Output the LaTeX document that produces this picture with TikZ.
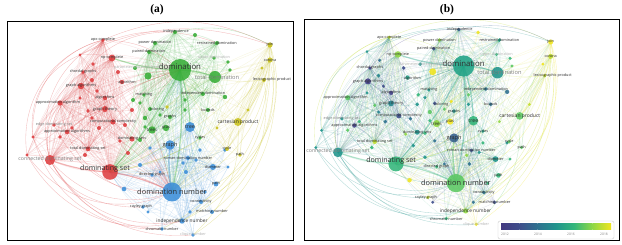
\documentclass[tikz,border=0pt]{standalone}
\usepackage{fontspec}
\newfontfamily\lab{Open Sans}
\newfontfamily\ttl{Liberation Serif}
% cluster colours (panel a)
\definecolor{cR}{HTML}{DE3E40}
\definecolor{cG}{HTML}{38AE38}
\definecolor{cB}{HTML}{3D8FD9}
\definecolor{cY}{HTML}{C9C21E}
% year colours (panel b)
\definecolor{y12}{HTML}{41387F}
\definecolor{y125}{HTML}{443F8A}
\definecolor{y13}{HTML}{3D4D8A}
\definecolor{y135}{HTML}{355F8D}
\definecolor{y14}{HTML}{2D708E}
\definecolor{y145}{HTML}{25838E}
\definecolor{y15}{HTML}{1F948C}
\definecolor{y155}{HTML}{20A386}
\definecolor{y16}{HTML}{33B67A}
\definecolor{y165}{HTML}{5CC863}
\definecolor{y17}{HTML}{8FD744}
\definecolor{y175}{HTML}{C1DE2C}
\definecolor{y18}{HTML}{F0E51E}
\colorlet{lblk}{black!82}
\colorlet{lgry}{black!50}
\colorlet{lfnt}{black!30}
\tikzset{
  lnk/.style={draw=col-#1,line width=.3pt,draw opacity=.17},
  arc/.style={draw=col-#1,line width=.35pt,draw opacity=.35},
  hub/.style={draw=col-#1,line width=1.2pt,draw opacity=.4},
  lbl/.style={inner sep=0pt}
}
\def\pick#1#2{#1}
\def\nodelist{%
apx/103/40/1.8/cR/y175,npc/112/58/3.4/cR/y17,chordal/83/72/1.8/cR/y125,alg/122/82/2.2/cR/y155,%
galg/81/86/3.2/cR/y125,algs/105/98/2.2/cR/y125,approxa/60/103/2.6/cR/y165,gtheory/105/109/3/cR/y145,%
compc/113/122/2.6/cR/y13,eds/54/125/1.8/cR/y15,approxas/67/132/2.3/cR/y125,dsets/132/139/2.6/cR/y15,%
tds/88/149/2.3/cR/y175,cds/50/160/5/cR/y15,dset/110/172/7.8/cR/y16,%
r1/80/55/1.5/cR/y15,r2/93/64/1.8/cR/y14,r3/92/80/2/cR/y145,r4/97/91/1.8/cR/y13,r5/80/98/1.6/cR/y15,%
r6/88/111/1.8/cR/y165,r7/92/118/1.8/cR/y145,r8/99/128/2/cR/y14,r9/72/128/1.8/cR/y16,r10/60/137/1.8/cR/y165,%
r11/33/137/1.6/cR/y15,r12/27/155/1.6/cR/y15,r13/85/155/2/cR/y16,r14/120/141/1.8/cR/y17,r15/128/153/2/cR/y15,%
r16/132/110/2/cR/y15,r17/125/125/2/cR/y14,r18/118/72/2/cR/y13,%
indep/175/32/2/cG/y135,g1/195/35/2/cG/y18,powd/155/43/2/cG/y17,restr/217/43/2/cG/y155,paired/149/52/2/cG/y13,%
upper/214/58/1.8/cG/y16,param/135/68/2/cG/y15,dom/180/70/11/cG/y155,tdom/215/77/6/cG/y15,g2/148/76/3.6/cG/y18,%
g3/228/62/1.8/cG/y16,g4/230/70/1.8/cG/y165,match/144/95/1.8/cG/y15,inddom/203/94/2/cG/y14,g5/225/97/2.2/cG/y14,%
g6/133/100/2/cG/y16,g7/185/100/1.8/cG/y165,g8/140/103/1.8/cG/y15,colg/150/109/2/cG/y13,bounds/208/110/2/cG/y14,%
graphs/170/117/2/cG/y15,g9/160/115/1.8/cG/y165,g10/145/118/2.2/cG/y165,trees/152/130/3.7/cG/y17,ptas/166/128/3.2/cG/y18,%
g11/145/127/1.8/cG/y16,cycs/200/138/1.8/cG/y155,g12/140/140/2/cG/y16,g13/185/110/1.8/cG/y15,%
tree/190/127/5/cB/y16,graph/170/145/4.8/cB/y135,roman/188/158/2/cB/y13,diam/213/167/3/cB/y15,%
dirg/152/175/1.8/cB/y16,pathb/216/184/2.4/cB/y16,dnum/172/192/9.5/cB/y165,conn/201/202/2/cB/y14,%
cayley/143/207/1.8/cB/y175,matchn/212/212/2/cB/y13,indnum/182/221/2.7/cB/y17,chrom/162/229/1.8/cB/y16,%
clique/193/235/1.8/cB/y18,b1/124/189/2.3/cB/y18,b2/140/165/2/cB/y15,b3/160/172/1.6/cB/y14,b4/186/172/2/cB/y14,%
b5/196/160/1.8/cB/y15,b6/225/150/1.8/cB/y15,b7/150/148/1.8/cB/y14,b8/200/150/1.8/cB/y16,b9/148/212/1.6/cB/y13,%
b10/190/212/1.8/cB/y14,b11/205/192/1.8/cB/y16,b12/183/163/1.8/cB/y17,b13/228/167/1.6/cB/y16,%
join/270/45/2.6/cY/y18,corona/270/60/2.6/cY/y175,lex/264/80/2/cY/y175,cart/238/122/4/cY/y165,%
cyc/227/149/2/cY/y165,pathy/240/155/1.8/cY/y165,y1/167/107/1.8/cY/y18,y2/217/128/1.6/cY/y17,%
y3/248/110/1.6/cY/y175,y4/262/68/1.6/cY/y18}
\def\redlist{apx,npc,chordal,alg,galg,algs,approxa,gtheory,compc,eds,approxas,dsets,tds,cds,dset,r1,r2,r3,r4,r5,r6,r7,r8,r9,r10,r11,r12,r13,r14,r15,r16,r17,r18}
\def\greenlist{indep,g1,powd,restr,paired,upper,param,dom,tdom,g2,g3,g4,match,inddom,g5,g6,g7,g8,colg,bounds,graphs,g9,g10,trees,ptas,g11,cycs,g12,g13}
\def\bluelist{tree,graph,roman,diam,dirg,pathb,dnum,conn,cayley,matchn,indnum,chrom,clique,b1,b2,b3,b4,b5,b6,b7,b8,b9,b10,b11,b12,b13}
\def\yellowlist{join,corona,lex,cart,cyc,pathy,y1,y2,y3,y4}
\edef\allnames{\redlist,\greenlist,\bluelist,\yellowlist}
\def\labellist{%
dom/domination/7.8/lblk/0/-3,dnum/domination number/7.4/lblk/0/0,dset/dominating set/7.1/lblk/-5/-3.5,%
tdom/total domination/5.7/lgry/2/0,cds/connected dominating set/5.2/lgry/0/-1,cart/cartesian product/5/lblk/0/0,%
tree/tree/5.2/lblk/0/0,graph/graph/5.5/lblk/0/0,trees/trees/4.4/lblk/0/0,ptas/ptas/4/lblk/0/0,graphs/graphs/3.8/lblk/0/0,%
indep/independence/3.8/lblk/1/0,powd/power domination/3.8/lblk/0/0,restr/restrained domination/3.8/lblk/0/0,%
paired/paired-domination/3.8/lblk/0/0,upper/upper domination/3.8/lfnt/0/0,param/parameterized complexity/3.8/lfnt/2/0,%
join/join/3.8/lblk/0/0,corona/corona/3.8/lblk/0/0,lex/lexicographic product/3.8/lblk/8/0,apx/apx-complete/3.8/lblk/0/0,%
npc/np-complete/3.8/lblk/0/0,chordal/chordal graphs/3.8/lblk/0/0,alg/algorithm/3.8/lblk/5/1,galg/graph algorithms/3.8/lblk/0/0,%
match/matching/3.8/lblk/0/0,inddom/independent domination/3.8/lblk/0/0,algs/algorithms/3.8/lblk/0/0,%
approxa/approximation algorithm/3.8/lblk/-2/0,gtheory/graph theory/4/lblk/0/0,colg/coloring/3.8/lblk/7/1,bounds/bounds/3.8/lblk/0/0,%
compc/computational complexity/3.8/lblk/0/0,eds/edge dominating set/3.8/lgry/0/0,approxas/approximation algorithms/3.8/lblk/0/0,%
cycs/cycles/3.8/lblk/0/0,dsets/dominating sets/3.8/lblk/0/0,tds/total dominating set/3.8/lblk/0/0,%
roman/roman domination number/3.8/lblk/0/0,cyc/cycle/3.8/lblk/0/0,pathy/path/3.8/lblk/0/0,diam/diameter/3.8/lblk/0/0,%
dirg/directed graph/3.8/lblk/0/0,pathb/path/3.8/lblk/0/0,conn/connectivity/3.8/lblk/0/0,cayley/cayley graph/3.8/lblk/-2/0,%
matchn/matching number/3.8/lblk/0/0,indnum/independence number/4.8/lblk/0/0,chrom/chromatic number/3.8/lblk/0/0,%
clique/clique number/3.8/lfnt/0/0}
\newcommand\clusteredges[2]{%
  \foreach \src in #1 {\foreach \tgt in {#2} {\ifx\src\tgt\else\draw[lnk=\src] (\src) to[bend left=12] (\tgt);\fi}}}
\newcommand\network{%
  \foreach \nm/\xx/\yy/\rr/\ca/\cb in \nodelist {\coordinate (\nm) at (\xx,\yy); \xglobal\colorlet{col-\nm}{\pick{\ca}{\cb}}}
  \clusteredges{\allnames}{dom,dnum,dset}
  \clusteredges{\redlist}{cds,galg,npc,approxa,gtheory,compc,tds,apx,chordal}
  \clusteredges{\greenlist}{tdom,indep,paired,restr,inddom,trees,powd}
  \clusteredges{\bluelist}{tree,graph,diam,indnum,conn,roman}
  \clusteredges{\yellowlist}{join,corona,cart,lex,cyc,tdom}
  \foreach \src/\tgt/\bb in {apx/cds/-40,chordal/cds/-35,galg/cds/-30,approxa/cds/-25,apx/r12/-42,r1/r11/-38,apx/r11/-40,
      cds/dnum/-35,cds/indnum/-35,cds/clique/-32,cds/chrom/-30,r12/dnum/-40,eds/dnum/-35,r11/cayley/-35,approxa/b1/-30,
      r12/indnum/-38,r11/chrom/-38,
      apx/join/25,apx/dom/20,chordal/indep/25,r1/restr/25,indep/join/20,r1/join/22,
      join/dnum/35,join/clique/35,corona/indnum/30,lex/matchn/30,corona/dset/25,join/cart/20,cart/clique/25,corona/chrom/30,
      join/pathb/40,corona/conn/38,join/indnum/38}
    {\draw[arc=\src] (\src) to[bend left=\bb] (\tgt);}
  \foreach \src/\tgt in {dom/dnum,dom/dset,dset/dnum,dom/tdom,dset/cds,dom/tree,dnum/graph,dom/npc}
    {\draw[hub=\src] (\src) to[bend left=8] (\tgt);}
  \foreach \nm/\xx/\yy/\rr/\ca/\cb in \nodelist {\fill[col-\nm,opacity=.88] (\nm) circle[radius=\rr];}
  \foreach \nm/\tx/\sz/\cl/\dx/\dy in \labellist
    {\node[lbl,text=\cl,font=\lab\fontsize{\sz}{\sz}\selectfont] (l\nm) at ([shift={(\dx,\dy)}]\nm) {\tx};}
}
\begin{document}
\begin{tikzpicture}[x=1pt,y=-1pt]
\fill[white] (0,0) rectangle (622,245);
\useasboundingbox (0,0) rectangle (622,245);
\begin{scope}
  \clip (7,21) rectangle (293,240);
  \begin{scope}[name prefix=a-]
    \network
  \end{scope}
\end{scope}
\def\pick#1#2{#2}
\begin{scope}
  \clip (304,19) rectangle (619,240);
  \begin{scope}[name prefix=b-,shift={(289.6,-1.2)},xscale=.967,yscale=.96]
    \network
  \end{scope}
\end{scope}
\draw[line width=.8pt] (7,21) rectangle (293,240);
\draw[line width=.8pt] (304,19) rectangle (619,240);
\node[font=\ttl\bfseries\fontsize{11.5}{13}\selectfont] (ta) at (157,10) {(a)};
\node[font=\ttl\bfseries\fontsize{11.5}{13}\selectfont] (tb) at (447,10) {(b)};
% colour bar
\draw[black!20,line width=.4pt,fill=white,rounded corners=2pt] (498,221) rectangle (614,239);
\shade[left color=y12,right color=y13] (501,223.5) rectangle (519.4,230);
\shade[left color=y13,right color=y14] (519.3,223.5) rectangle (537.7,230);
\shade[left color=y14,right color=y15] (537.6,223.5) rectangle (556,230);
\shade[left color=y15,right color=y16] (555.9,223.5) rectangle (574.3,230);
\shade[left color=y16,right color=y17] (574.2,223.5) rectangle (592.6,230);
\shade[left color=y17,right color=y18] (592.5,223.5) rectangle (611,230);
\foreach \yr/\xp in {2012/505,2014/538,2016/571,2018/604}
  {\node[lbl,text=black!50,font=\lab\fontsize{3.3}{3.5}\selectfont] (yr\yr) at (\xp,234.5) {\yr};}
\end{tikzpicture}
\end{document}
